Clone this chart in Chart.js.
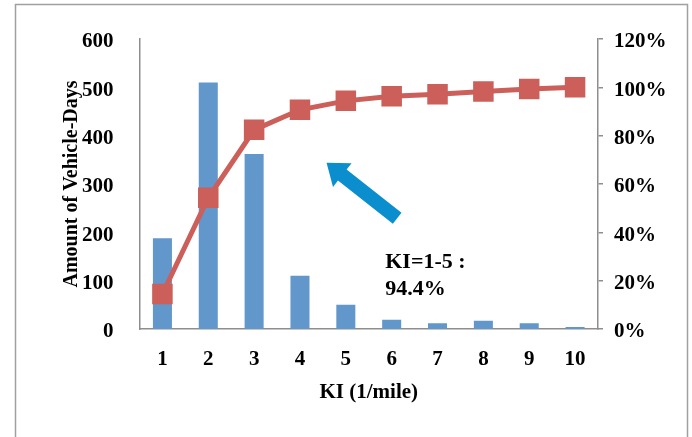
<!DOCTYPE html>
<html lang="en">
<head>
    <meta charset="UTF-8" />
    <script src="https://cdn.jsdelivr.net/npm/chart.js"></script>
    <title>KI distribution</title>
    <style>
        body {
            margin: 0;
            background: #ffffff;
        }

        canvas {
            display: block;
        }
    </style>
</head>
<body>
<canvas id="myChart" width="692" height="437"></canvas>

<script>
    // datos
    const categories = ['1', '2', '3', '4', '5', '6', '7', '8', '9', '10'];
    const vehicleDays = [188, 510, 362, 110, 50, 19, 12, 17, 12, 4];
    const cumulativePct = [14.5, 54.3, 82.4, 90.7, 94.4, 96.3, 97.1, 98.3, 99.3, 100];
    const leftTicks = [0, 600, 100];   // min, max, step
    const rightTicks = [0, 120, 20];

    const serif = "'Liberation Serif', 'Times New Roman', serif";
    const axisGray = '#8e8e8e';
    const barBlue = '#6197cb';
    const lineRed = '#cc5f59';

    // marco exterior y flecha con el texto
    const extras = {
        id: 'extras',
        beforeDraw(chart) {
            const c = chart.ctx;
            c.save();
            c.strokeStyle = '#a0a0a0';
            c.lineWidth = 1.5;
            c.strokeRect(15.5, 4.5, 672, 450);
            c.restore();
        },
        afterDatasetsDraw(chart) {
            const c = chart.ctx;
            const xs = chart.scales.x, ys = chart.scales.y1;
            const x0 = xs.getPixelForValue(5.12), y0 = ys.getPixelForValue(45.8);
            const x1 = xs.getPixelForValue(3.58), y1 = ys.getPixelForValue(68.8);
            const ang = Math.atan2(y1 - y0, x1 - x0);
            const len = Math.hypot(x1 - x0, y1 - y0);
            const shaft = 7, head = 15, headLen = 20;
            c.save();
            c.translate(x0, y0);
            c.rotate(ang);
            c.fillStyle = '#0b8ecd';
            c.beginPath();
            c.moveTo(0, -shaft);
            c.lineTo(len - headLen, -shaft);
            c.lineTo(len - headLen, -head);
            c.lineTo(len, 0);
            c.lineTo(len - headLen, head);
            c.lineTo(len - headLen, shaft);
            c.lineTo(0, shaft);
            c.closePath();
            c.fill();
            c.restore();

            c.save();
            c.fillStyle = '#000';
            c.font = 'bold 22px ' + serif;
            c.textAlign = 'left';
            c.textBaseline = 'alphabetic';
            const tx = xs.getPixelForValue(4.86);
            c.fillText('KI=1-5 :', tx, ys.getPixelForValue(25.4));
            c.fillText('94.4%', tx, ys.getPixelForValue(14.1));
            c.restore();
        }
    };

    const tickFont = { family: serif, size: 21, weight: 'bold' };

    const myChart = new Chart(document.getElementById('myChart').getContext('2d'), {
        data: {
            labels: categories,
            datasets: [
                {
                    type: 'line',
                    label: 'Cumulative',
                    data: cumulativePct,
                    yAxisID: 'y1',
                    order: 0,
                    borderColor: lineRed,
                    backgroundColor: lineRed,
                    borderWidth: 5,
                    tension: 0,
                    pointStyle: 'rect',
                    pointRadius: 14.5,
                    pointBorderWidth: 0,
                    pointBackgroundColor: lineRed
                },
                {
                    type: 'bar',
                    label: 'Vehicle-Days',
                    data: vehicleDays,
                    yAxisID: 'y',
                    order: 1,
                    backgroundColor: barBlue,
                    barPercentage: 0.415,
                    categoryPercentage: 1
                }
            ]
        },
        options: {
            responsive: false,
            animation: false,
            devicePixelRatio: 1,
            layout: { padding: { top: 39, left: 0, right: 0, bottom: 0 } },
            plugins: {
                legend: { display: false },
                tooltip: { enabled: false }
            },
            scales: {
                x: {
                    grid: { display: false },
                    border: { color: axisGray, width: 1.5 },
                    ticks: { color: '#000', font: tickFont, padding: 10, maxRotation: 0 },
                    title: {
                        display: true,
                        text: 'KI (1/mile)',
                        color: '#000',
                        font: tickFont,
                        padding: { top: 0, bottom: 32 }
                    },
                    afterFit(s) { s.height = 108; }
                },
                y: {
                    position: 'left',
                    min: leftTicks[0],
                    max: leftTicks[1],
                    grid: { display: false },
                    border: { color: axisGray, width: 1.5 },
                    ticks: { stepSize: leftTicks[2], color: '#000', font: tickFont, padding: 18, labelOffset: 3 },
                    title: {
                        display: true,
                        text: 'Amount of Vehicle-Days',
                        color: '#000',
                        font: { family: serif, size: 20, weight: 'bold' },
                        padding: { top: 60, bottom: 0 }
                    },
                    afterFit(s) { s.width = 139.5; }
                },
                y1: {
                    position: 'right',
                    min: rightTicks[0],
                    max: rightTicks[1],
                    grid: {
                        drawOnChartArea: false,
                        drawTicks: true,
                        tickLength: 5,
                        tickColor: axisGray,
                        lineWidth: 1.5
                    },
                    border: { color: axisGray, width: 1.5 },
                    ticks: {
                        stepSize: rightTicks[2],
                        color: '#000',
                        font: tickFont,
                        padding: 11,
                        labelOffset: 3,
                        callback: (v) => v + '%'
                    },
                    afterFit(s) { s.width = 94; }
                }
            }
        },
        plugins: [extras]
    });
</script>
</body>
</html>
